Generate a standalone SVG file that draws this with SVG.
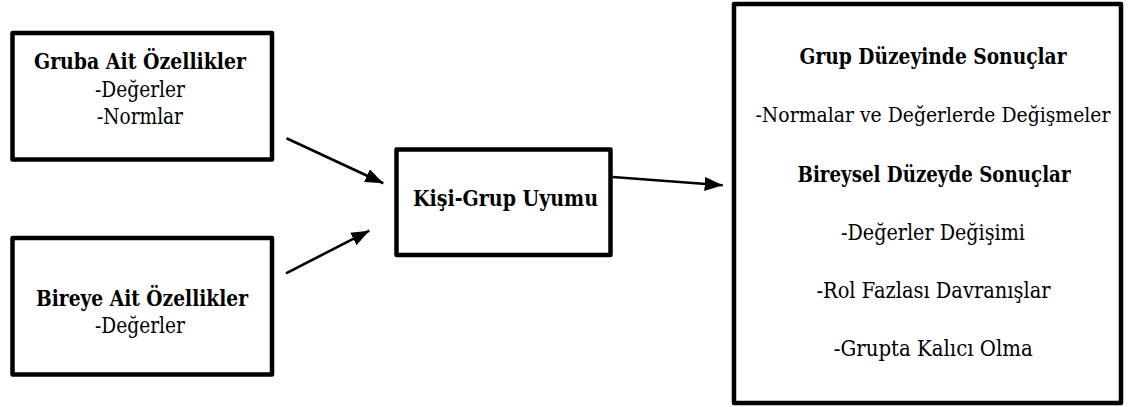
<svg xmlns="http://www.w3.org/2000/svg" width="1133" height="407" viewBox="0 0 1133 407">
<style>
.box{fill:#fff;stroke:#000;stroke-width:4.5;stroke-linejoin:round}
text{font-family:'DejaVu Serif','Liberation Serif','Times New Roman',serif;font-size:21.5px;fill:#000;text-anchor:middle}
.b{font-weight:bold}
.conn{stroke:#000;stroke-width:2.6;fill:none}
</style>
<defs>
<marker id="ah" markerUnits="userSpaceOnUse" markerWidth="20" markerHeight="16" refX="18" refY="7" orient="auto">
<path d="M0,0 L18,7 L0,14 z" fill="#000"/>
</marker>
</defs>
<rect width="1133" height="407" fill="#fff"/>
<g id="node-gruba">
<rect class="box" x="12.5" y="33" width="259.5" height="126.5"/>
<text class="b" x="140" y="69" textLength="212" lengthAdjust="spacingAndGlyphs">Gruba Ait Özellikler</text>
<text x="140" y="97" textLength="90" lengthAdjust="spacingAndGlyphs">-Değerler</text>
<text x="140" y="124" textLength="86" lengthAdjust="spacingAndGlyphs">-Normlar</text>
</g>
<g id="node-bireye">
<rect class="box" x="12.5" y="238" width="259.5" height="136.5"/>
<text class="b" x="142" y="306" textLength="212" lengthAdjust="spacingAndGlyphs">Bireye Ait Özellikler</text>
<text x="140" y="333" textLength="90" lengthAdjust="spacingAndGlyphs">-Değerler</text>
</g>
<g id="node-uyum">
<rect class="box" x="396.5" y="149.5" width="214" height="105.5"/>
<text class="b" x="505.5" y="206" textLength="185" lengthAdjust="spacingAndGlyphs">Kişi-Grup Uyumu</text>
</g>
<g id="node-sonuc">
<rect class="box" x="734" y="4" width="387" height="399"/>
<text class="b" x="933" y="64" textLength="267" lengthAdjust="spacingAndGlyphs">Grup Düzeyinde Sonuçlar</text>
<text x="933" y="122" font-size="20.5" textLength="355" lengthAdjust="spacingAndGlyphs" style="font-size:20.5px">-Normalar ve Değerlerde Değişmeler</text>
<text class="b" x="934" y="182" textLength="273" lengthAdjust="spacingAndGlyphs">Bireysel Düzeyde Sonuçlar</text>
<text x="933" y="240" textLength="184" lengthAdjust="spacingAndGlyphs">-Değerler Değişimi</text>
<text x="933.5" y="298" textLength="234" lengthAdjust="spacingAndGlyphs">-Rol Fazlası Davranışlar</text>
<text x="933.3" y="356" textLength="199" lengthAdjust="spacingAndGlyphs">-Grupta Kalıcı Olma</text>
</g>
<g id="connectors">
<line class="conn" x1="286.5" y1="138.3" x2="383.3" y2="183.3" marker-end="url(#ah)"/>
<line class="conn" x1="286" y1="273.3" x2="369.3" y2="230.7" marker-end="url(#ah)"/>
<line class="conn" x1="612.7" y1="177" x2="722.7" y2="185.3" marker-end="url(#ah)"/>
</g>
</svg>
